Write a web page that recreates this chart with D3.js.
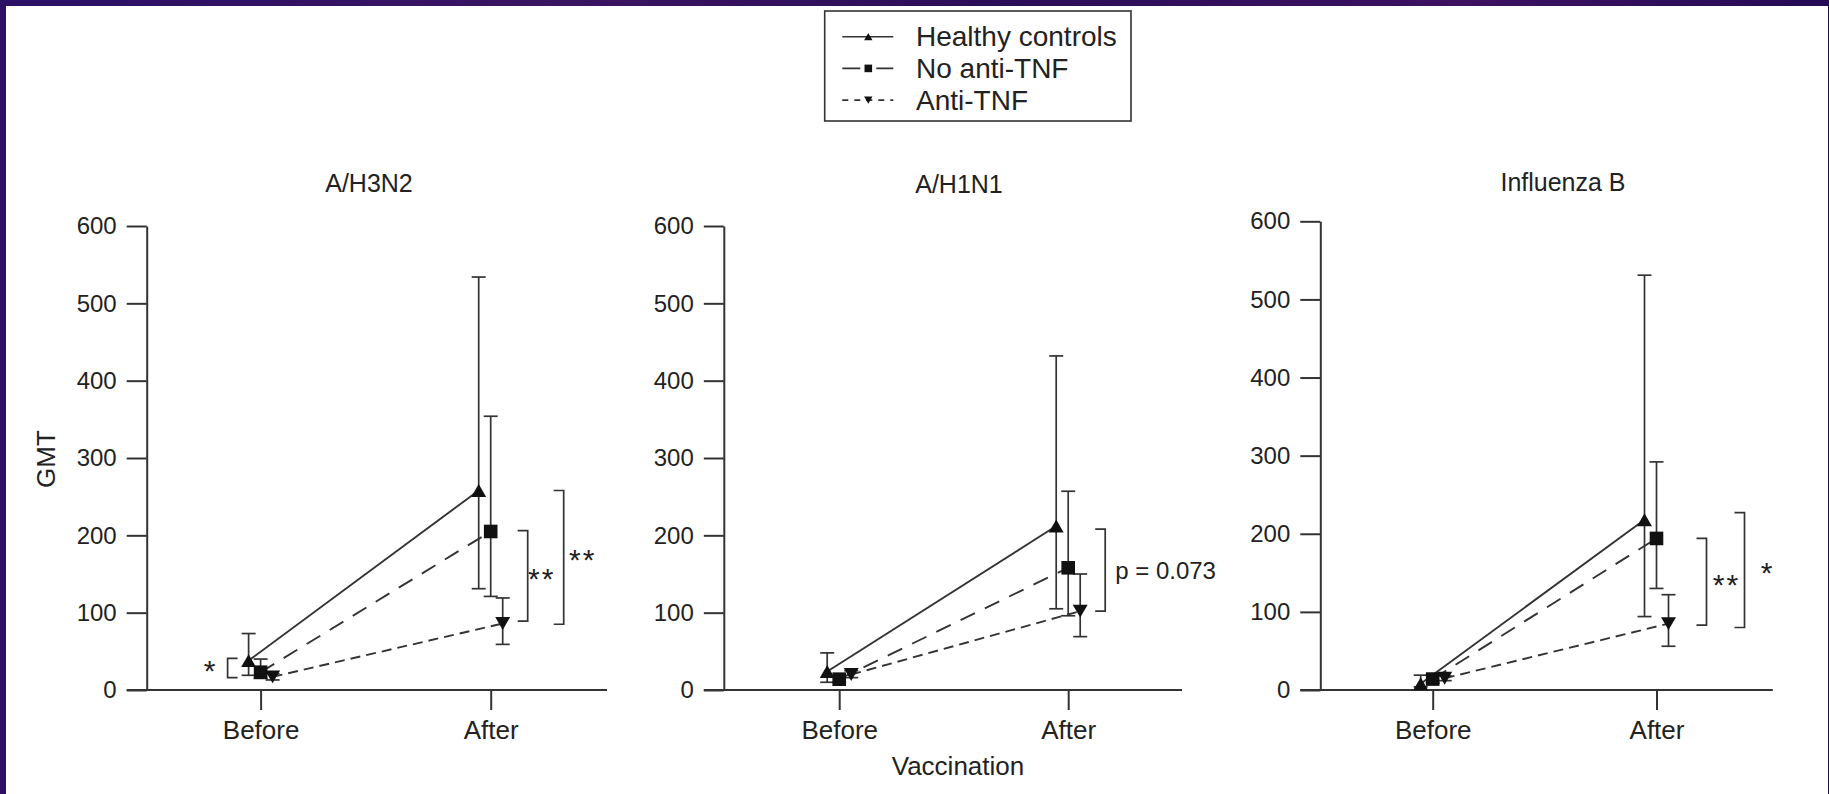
<!DOCTYPE html>
<html>
<head>
<meta charset="utf-8">
<script src="https://cdn.jsdelivr.net/npm/d3@7"></script>
<style>
  body { margin: 0; background: #220c50; }
  svg { display: block; }
  text { font-family: "Liberation Sans", Arial, Helvetica, sans-serif; fill: #222; }
</style>
</head>
<body>
<svg id="chart" width="1829" height="794"></svg>
<script>
// ---- data ----
var panels = ["A/H3N2", "A/H1N1", "Influenza B"];
var timepoints = ["Before", "After"];
var seriesNames = ["Healthy controls", "No anti-TNF", "Anti-TNF"];
var yTicks = [0, 100, 200, 300, 400, 500, 600];

// GMT per panel, [Before, After]
var healthyGMT  = [[38, 258], [24, 212], [8, 218]];
var healthyLow  = [[19, 131], [10, 105], [4, 94]];
var healthyHigh = [[73, 534], [48, 432], [19, 531]];

var noTnfGMT  = [[23, 205], [14, 158], [14, 194]];
var noTnfLow  = [[15, 121], [10, 96], [9, 130]];
var noTnfHigh = [[40, 354], [18, 257], [19, 292]];

var antiTnfGMT  = [[17, 86], [20, 102], [15, 85]];
var antiTnfLow  = [[13, 59], [16, 69], [12, 56]];
var antiTnfHigh = [[21, 119], [25, 150], [18, 122]];

// significance brackets
var bracketPanel = [0, 0, 0, 1, 2, 2];
var bracketTime  = ["Before", "After", "After", "After", "After", "After"];
var bracketFrom  = [41, 206, 258, 208, 194, 227];
var bracketTo    = [16, 89, 85, 102, 83, 80];
var bracketLabel = ["*", "**", "**", "p = 0.073", "**", "*"];

// ---- layout ----
var layout = [
    {axis: 146.7, before: 260.6, after: 490.7, end: 607, top: 226, zero: 690, titleX: 369, titleY: 192},
    {axis: 723.8, before: 839.2, after: 1068.2, end: 1182, top: 226, zero: 690, titleX: 959, titleY: 192.7},
    {axis: 1320.3, before: 1432.7, after: 1656.5, end: 1772.8, top: 221.3, zero: 690, titleX: 1563, titleY: 191}
];
var bracketDx     = [-33, 37, 73, 37, 50, 88];
var bracketTextDx = [-51, 50, 91, 47, 69, 110];

var ink = "#333";
var series = [
    {name: seriesNames[0], gmt: healthyGMT, low: healthyLow, high: healthyHigh, shape: "up", dash: null},
    {name: seriesNames[1], gmt: noTnfGMT, low: noTnfLow, high: noTnfHigh, shape: "square", dash: "16,11"},
    {name: seriesNames[2], gmt: antiTnfGMT, low: antiTnfLow, high: antiTnfHigh, shape: "down", dash: "10,6"}
];
var offset = d3.scalePoint().domain(seriesNames).range([-12, 12]);

function marker(shape, r) {
    if (shape === "square") return "M" + (-r) + "," + (-r) + "h" + 2 * r + "v" + 2 * r + "h" + (-2 * r) + "Z";
    var h = r * 1.9, w = r * 2.2;
    if (shape === "up") return "M0," + (-h / 2) + "L" + (w / 2) + "," + (h / 2) + "L" + (-w / 2) + "," + (h / 2) + "Z";
    return "M0," + (h / 2) + "L" + (w / 2) + "," + (-h / 2) + "L" + (-w / 2) + "," + (-h / 2) + "Z";
}

var svg = d3.select("#chart");

// frame
var grad = svg.append("defs").append("linearGradient")
    .attr("id", "frame").attr("x1", 0).attr("x2", 1).attr("y1", 0).attr("y2", 0);
grad.selectAll("stop")
    .data([["0", "#2a1066"], ["0.3", "#3b1462"], ["0.55", "#2a0d58"], ["0.8", "#3d1260"], ["1", "#240b52"]])
    .enter().append("stop")
    .attr("offset", function(d) { return d[0]; })
    .attr("stop-color", function(d) { return d[1]; });
svg.append("rect").attr("width", 1829).attr("height", 794).attr("fill", "url(#frame)");
svg.append("rect").attr("x", 6).attr("y", 6).attr("width", 1822).attr("height", 788).attr("fill", "#fff");

panels.forEach(function(title, p) {
    var L = layout[p];
    var x = d3.scalePoint().domain(timepoints).range([L.before, L.after]);
    var y = d3.scaleLinear().domain([0, 600]).range([L.zero, L.top]);
    var g = svg.append("g");

    // axes
    var ya = g.append("g")
        .attr("transform", "translate(" + L.axis + ",0)")
        .call(d3.axisLeft(y).tickValues(yTicks).tickSize(20).tickSizeOuter(0).tickPadding(10));
    var xa = g.append("g")
        .attr("transform", "translate(0," + L.zero + ")")
        .call(d3.axisBottom(x).tickSize(20).tickSizeOuter(0).tickPadding(11));
    xa.select(".domain").remove();
    g.append("line")
        .attr("x1", L.axis - 20).attr("x2", L.end)
        .attr("y1", y(0)).attr("y2", y(0))
        .attr("stroke", ink).attr("stroke-width", 2);
    [ya, xa].forEach(function(a) {
        a.selectAll("path, line").attr("stroke", ink).attr("stroke-width", 2);
        a.selectAll("text").attr("fill", "#222").style("font-family", null);
    });
    ya.selectAll("text").attr("font-size", 24);
    xa.selectAll("text").attr("font-size", 26);

    g.append("text")
        .attr("x", L.titleX).attr("y", L.titleY)
        .attr("text-anchor", "middle").attr("font-size", 25)
        .text(title);

    // error bars
    series.forEach(function(s) {
        var dx = offset(s.name);
        var eb = g.selectAll(null)
            .data(timepoints.map(function(t, j) { return {t: t, lo: s.low[p][j], hi: s.high[p][j]}; }))
            .enter().append("g")
            .attr("stroke", ink).attr("stroke-width", 1.7);
        eb.append("line")
            .attr("x1", function(d) { return x(d.t) + dx; })
            .attr("x2", function(d) { return x(d.t) + dx; })
            .attr("y1", function(d) { return y(d.lo); })
            .attr("y2", function(d) { return y(d.hi); });
        ["lo", "hi"].forEach(function(k) {
            eb.append("line")
                .attr("x1", function(d) { return x(d.t) + dx - 7; })
                .attr("x2", function(d) { return x(d.t) + dx + 7; })
                .attr("y1", function(d) { return y(d[k]); })
                .attr("y2", function(d) { return y(d[k]); });
        });
    });

    // connecting lines
    var line = d3.line()
        .x(function(d) { return x(d.t) + d.dx; })
        .y(function(d) { return y(d.v); });
    series.forEach(function(s) {
        var pts = timepoints.map(function(t, j) { return {t: t, v: s.gmt[p][j], dx: offset(s.name)}; });
        g.append("path")
            .attr("d", line(pts))
            .attr("fill", "none")
            .attr("stroke", ink)
            .attr("stroke-width", 1.9)
            .attr("stroke-dasharray", s.dash);
    });

    // markers
    series.forEach(function(s) {
        g.selectAll(null)
            .data(timepoints.map(function(t, j) { return {t: t, v: s.gmt[p][j]}; }))
            .enter().append("path")
            .attr("d", marker(s.shape, 6.8))
            .attr("fill", "#111")
            .attr("transform", function(d) {
                return "translate(" + (x(d.t) + offset(s.name)) + "," + y(d.v) + ")";
            });
    });

    // significance brackets
    bracketLabel.forEach(function(label, i) {
        if (bracketPanel[i] !== p) return;
        var bx = x(bracketTime[i]) + bracketDx[i];
        var dir = bracketDx[i] < 0 ? 1 : -1;
        var y1 = y(bracketFrom[i]), y2 = y(bracketTo[i]);
        g.append("path")
            .attr("d", "M" + (bx + dir * 10) + "," + y1 + "H" + bx + "V" + y2 + "H" + (bx + dir * 10))
            .attr("fill", "none").attr("stroke", ink).attr("stroke-width", 1.7);
        var isP = label.charAt(0) === "p";
        g.append("text")
            .attr("x", x(bracketTime[i]) + bracketTextDx[i] + (isP ? 0 : 1))
            .attr("y", (y1 + y2) / 2 + (isP ? 8.5 : 13))
            .attr("text-anchor", isP ? "start" : "middle")
            .attr("font-size", isP ? 24 : 30)
            .attr("letter-spacing", isP ? null : 2)
            .text(label);
    });
});

// shared axis titles
svg.append("text")
    .attr("transform", "translate(45.5,459) rotate(-90)")
    .attr("text-anchor", "middle").attr("dominant-baseline", "central")
    .attr("font-size", 26)
    .text("GMT");
svg.append("text")
    .attr("x", 958).attr("y", 775)
    .attr("text-anchor", "middle").attr("font-size", 26)
    .text("Vaccination");

// legend
var legend = svg.append("g").attr("transform", "translate(824.7,11)");
legend.append("rect")
    .attr("width", 306.3).attr("height", 110)
    .attr("fill", "#fff").attr("stroke", ink).attr("stroke-width", 1.6);
var legendDash = [null, "18,16", "6,6"];
var row = legend.selectAll("g.row")
    .data(series)
    .enter().append("g")
    .attr("class", "row")
    .attr("transform", function(d, i) { return "translate(0," + (25.7 + i * 31.7) + ")"; });
row.append("line")
    .attr("x1", 17.6).attr("x2", 68.6)
    .attr("stroke", ink).attr("stroke-width", 1.6)
    .attr("stroke-dasharray", function(d, i) { return legendDash[i]; });
row.append("path")
    .attr("d", function(d) { return marker(d.shape, 3.8); })
    .attr("fill", "#111")
    .attr("transform", "translate(43.6,0)");
row.append("text")
    .attr("x", 91.3).attr("y", 9.5)
    .attr("font-size", 28)
    .text(function(d) { return d.name; });
</script>
</body>
</html>
